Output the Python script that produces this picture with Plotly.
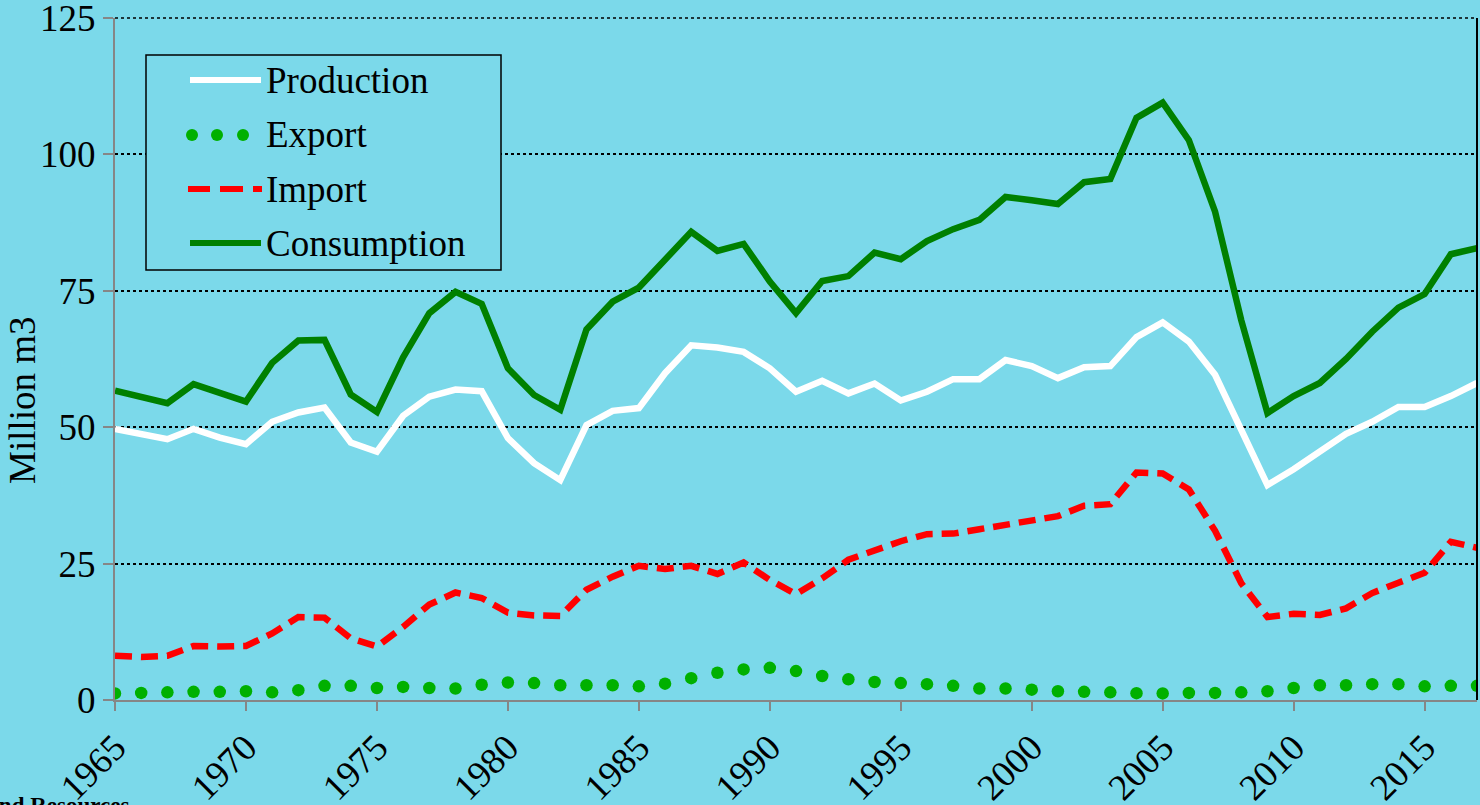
import plotly.graph_objects as go

years = list(range(1965, 2018))

production = [49.7, 48.9, 47.8, 49.7, 48.1, 46.9, 51.0, 52.7, 53.6, 47.2,
              45.5, 52.1, 55.6, 56.9, 56.6, 48.0, 43.4, 40.3, 50.4, 53.0,
              53.5, 59.9, 65.0, 64.6, 63.8, 60.8, 56.5, 58.5, 56.2, 58.0,
              54.9, 56.5, 58.8, 58.8, 62.3, 61.2, 59.0, 61.0, 61.2, 66.5,
              69.2, 65.7, 59.6, 49.5, 39.4, 42.3, 45.5, 48.8, 51.0, 53.7,
              53.7, 55.7, 58.1]

export = [1.2, 1.3, 1.4, 1.5, 1.5, 1.6, 1.4, 1.8, 2.6, 2.6,
          2.2, 2.4, 2.2, 2.1, 2.8, 3.2, 3.1, 2.7, 2.7, 2.7,
          2.5, 3.0, 4.0, 5.0, 5.6, 5.9, 5.3, 4.4, 3.8, 3.3,
          3.1, 2.9, 2.6, 2.1, 2.1, 1.9, 1.6, 1.5, 1.4, 1.25,
          1.2, 1.3, 1.3, 1.4, 1.6, 2.2, 2.7, 2.7, 2.9, 2.9,
          2.5, 2.6, 2.6]

imports = [8.1, 7.9, 8.1, 9.9, 9.8, 9.9, 12.2, 15.2, 15.1, 11.3,
           9.8, 13.4, 17.5, 19.7, 18.7, 16.0, 15.5, 15.4, 20.2, 22.6,
           24.6, 24.0, 24.6, 23.1, 25.2, 22.0, 19.4, 22.3, 25.7, 27.5,
           29.1, 30.4, 30.5, 31.3, 32.1, 32.7, 33.7, 35.6, 35.9, 41.7,
           41.5, 38.6, 31.0, 21.4, 15.2, 15.8, 15.6, 16.8, 19.6, 21.5,
           23.3, 29.0, 27.9]

consumption = [56.7, 55.6, 54.4, 57.9, 56.3, 54.7, 61.8, 65.9, 66.0, 56.0,
               52.8, 62.8, 70.9, 74.8, 72.6, 60.8, 55.9, 53.2, 67.9, 73.0,
               75.6, 80.6, 85.8, 82.3, 83.6, 76.7, 70.9, 76.8, 77.7, 82.0,
               80.8, 84.1, 86.3, 88.0, 92.2, 91.6, 90.9, 94.9, 95.5, 106.7,
               109.5, 102.6, 89.5, 69.6, 52.6, 55.7, 58.1, 62.5, 67.5, 71.9,
               74.4, 81.7, 82.8]

series_names = ["Production", "Export", "Import", "Consumption"]
x_ticks = [1965, 1970, 1975, 1980, 1985, 1990, 1995, 2000, 2005, 2010, 2015]
y_ticks = [0, 25, 50, 75, 100, 125]

BG = "#7BD9EA"
FONT = "Times New Roman, Liberation Serif, DejaVu Serif, serif"
W, H = 1480, 805
L, R, T, B = 115, 3, 18, 105
PW, PH = W - L - R, H - T - B


def px(x):
    return (x - L) / PW


def py(y):
    return (H - B - y) / PH


fig = go.Figure()
fig.add_trace(go.Scatter(x=years, y=production, mode="lines", name=series_names[0],
                         line=dict(color="white", width=6.5), showlegend=False))
fig.add_trace(go.Scatter(x=years, y=export, mode="markers", name=series_names[1],
                         marker=dict(color="#00B000", size=12.5), showlegend=False))
fig.add_trace(go.Scatter(x=years, y=imports, mode="lines", name=series_names[2],
                         line=dict(color="#FF0000", width=6.5, dash="17px,9px"), showlegend=False))
fig.add_trace(go.Scatter(x=years, y=consumption, mode="lines", name=series_names[3],
                         line=dict(color="#008000", width=6.5), showlegend=False))

shapes = []
shapes.append(dict(type="line", xref="paper", yref="paper", x0=1, x1=1, y0=0, y1=1,
                   line=dict(color="black", width=2)))
shapes.append(dict(type="line", xref="paper", yref="paper", x0=0, x1=1, y0=1, y1=1,
                   line=dict(color="black", width=1.5, dash="dot")))
shapes.append(dict(type="rect", xref="paper", yref="paper",
                   x0=px(146), x1=px(501), y0=py(270), y1=py(55),
                   line=dict(color="black", width=1.5), fillcolor=BG, layer="above"))
rows = [80, 135, 189, 243]
shapes.append(dict(type="line", xref="paper", yref="paper", x0=px(190), x1=px(261),
                   y0=py(rows[0]), y1=py(rows[0]), line=dict(color="white", width=6), layer="above"))
for cx in [192, 217, 243]:
    shapes.append(dict(type="circle", xref="paper", yref="paper",
                       x0=px(cx - 6), x1=px(cx + 6), y0=py(rows[1] + 6), y1=py(rows[1] - 6),
                       line=dict(width=0), fillcolor="#00B000", layer="above"))
for a, b in [(188, 210), (220, 243), (253, 262)]:
    shapes.append(dict(type="line", xref="paper", yref="paper", x0=px(a), x1=px(b),
                       y0=py(rows[2]), y1=py(rows[2]), line=dict(color="#FF0000", width=6),
                       layer="above"))
shapes.append(dict(type="line", xref="paper", yref="paper", x0=px(190), x1=px(261),
                   y0=py(rows[3]), y1=py(rows[3]), line=dict(color="#008000", width=6), layer="above"))

annotations = []
for name, ry in zip(series_names, rows):
    annotations.append(dict(text=name, xref="paper", yref="paper", x=px(264), y=py(ry),
                            xanchor="left", yanchor="middle", showarrow=False,
                            font=dict(family=FONT, size=37, color="black")))
annotations.append(dict(text="Million m3", xref="paper", yref="paper", x=px(23), y=py(400),
                        xanchor="center", yanchor="middle", textangle=-90, showarrow=False,
                        font=dict(family=FONT, size=37, color="black")))
annotations.append(dict(text="<b>Land Resources</b>", xref="paper", yref="paper", x=px(131), y=py(791),
                        xanchor="right", yanchor="top", showarrow=False,
                        font=dict(family=FONT, size=23, color="black")))

fig.update_layout(
    width=W, height=H,
    margin=dict(l=L, r=R, t=T, b=B, pad=0, autoexpand=False),
    paper_bgcolor=BG, plot_bgcolor=BG,
    showlegend=False,
    font=dict(family=FONT, size=37, color="black"),
    shapes=shapes, annotations=annotations,
    xaxis=dict(range=[1965, 2017], tickvals=x_ticks, ticktext=[str(v) for v in x_ticks],
               tickangle=-45, showgrid=False, zeroline=False, automargin=False,
               ticklabeloverflow="allow",
               showline=True, linecolor="#868686", linewidth=2,
               ticks="outside", ticklen=9, tickcolor="#868686", tickwidth=2,
               tickfont=dict(family=FONT, size=37, color="black")),
    yaxis=dict(range=[0, 125], tickvals=y_ticks, showgrid=True, gridcolor="black",
               griddash="dot", gridwidth=1.5, zeroline=False, automargin=False,
               ticklabeloverflow="allow",
               showline=True, linecolor="#868686", linewidth=2,
               ticks="outside", ticklen=10, tickcolor="#868686", tickwidth=2,
               tickfont=dict(family=FONT, size=37, color="black")),
)

fig.write_html("out.html", config={"displayModeBar": False},
               post_script="document.body.style.margin='0';document.body.style.background='%s';" % BG)
